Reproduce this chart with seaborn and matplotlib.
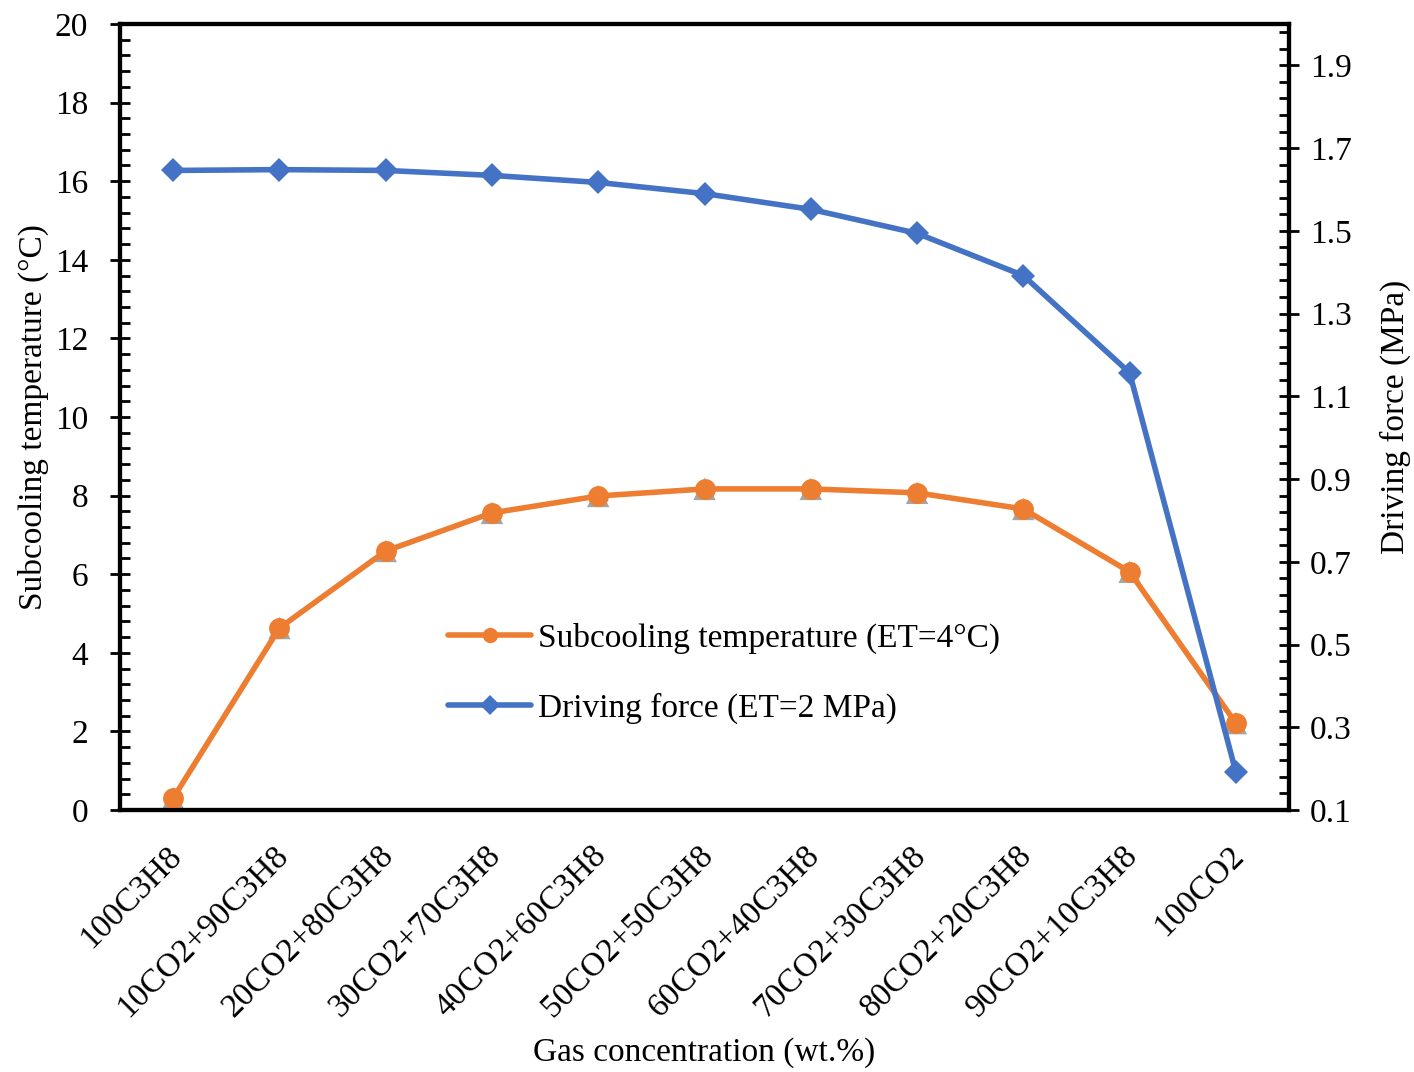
import matplotlib
matplotlib.use("Agg")
import matplotlib.pyplot as plt
import matplotlib.transforms as mtransforms
import seaborn as sns
import pandas as pd
import numpy as np
from matplotlib.ticker import MultipleLocator, FixedLocator
from matplotlib.lines import Line2D

categories = ["100C3H8", "10CO2+90C3H8", "20CO2+80C3H8", "30CO2+70C3H8",
              "40CO2+60C3H8", "50CO2+50C3H8", "60CO2+40C3H8", "70CO2+30C3H8",
              "80CO2+20C3H8", "90CO2+10C3H8", "100CO2"]
subcooling = [0.3, 4.63, 6.59, 7.56, 7.99, 8.17, 8.17, 8.07, 7.66, 6.06, 2.21]
driving_force = [1.646, 1.648, 1.646, 1.634, 1.617, 1.590, 1.552, 1.494, 1.392, 1.157, 0.192]

sns.set_theme(style="white")
plt.rcParams['font.family'] = ['Liberation Serif', 'DejaVu Serif']
plt.rcParams['text.color'] = 'black'
plt.rcParams['axes.labelcolor'] = 'black'
plt.rcParams['xtick.color'] = 'black'
plt.rcParams['ytick.color'] = 'black'
FS = 24

df = pd.DataFrame({"cat": categories, "x": np.arange(len(categories)),
                   "sub": subcooling, "drv": driving_force})

fig = plt.figure(figsize=(14.14, 10.72), dpi=100)
ax = fig.add_axes([120/1414, 1 - 810/1072, (1289-120)/1414, (810-24)/1072])
ax2 = ax.twinx()

orange = "#ED7D31"
blue = "#4472C4"
gray = "#A5A5A5"

# hidden gray triangle series beneath orange
sns.scatterplot(data=df, x="x", y="sub", ax=ax, marker="^", s=260, color=gray,
                edgecolor="none", zorder=2, legend=False)
sns.lineplot(data=df, x="x", y="sub", ax=ax, color=orange, lw=4, marker="o",
             markersize=15, markeredgewidth=0, zorder=3, legend=False)
sns.lineplot(data=df, x="x", y="drv", ax=ax2, color=blue, lw=4, marker="D",
             markersize=12, markeredgewidth=0, zorder=3, legend=False)

ax.set_xlim(-0.5, len(categories) - 0.5)
ax.set_ylim(0, 20)
ax2.set_ylim(0.1, 2.0)

ax.set_xticks(np.arange(-0.5, len(categories)), minor=False)
ax.set_xticklabels([])
ax.set_xticks(np.arange(len(categories)), minor=True)
ax.set_xticklabels(categories, minor=True, rotation=45, ha="right",
                   rotation_mode="anchor", fontsize=FS)
ax.tick_params(axis="x", which="major", direction="out", length=8, width=2)
ax.tick_params(axis="x", which="minor", direction="in", length=8, width=2, pad=22)
offset = mtransforms.ScaledTranslation(-7/100, 0, fig.dpi_scale_trans)
for lbl in ax.xaxis.get_minorticklabels():
    lbl.set_transform(lbl.get_transform() + offset)

ax.yaxis.set_major_locator(MultipleLocator(2))
ax.yaxis.set_minor_locator(MultipleLocator(0.4))
ax.tick_params(axis="y", which="major", direction="inout", length=14, width=2,
               labelsize=FS, pad=16)
ax.tick_params(axis="y", which="minor", direction="in", length=7, width=2)

ax2.yaxis.set_major_locator(FixedLocator(np.arange(0.1, 2.0, 0.2)))
ax2.set_yticklabels([f"{v:.1f}" for v in np.arange(0.1, 2.0, 0.2)])
ax2.yaxis.set_minor_locator(FixedLocator(np.arange(0.1, 2.0, 0.04)))
ax2.tick_params(axis="y", which="major", direction="inout", length=14, width=2,
                labelsize=FS, pad=8)
ax2.tick_params(axis="y", which="minor", direction="in", length=7, width=2)

for a in (ax, ax2):
    for sp in a.spines.values():
        sp.set_color("black")
        sp.set_linewidth(3)
    a.grid(False)

ax.set_xlabel("Gas concentration (wt.%)", fontsize=FS, labelpad=10)
ax.set_ylabel("Subcooling temperature (°C)", fontsize=FS, labelpad=4)
ax2.set_ylabel("Driving force (MPa)", fontsize=FS, labelpad=20)

handles = [Line2D([], [], color=orange, lw=4, marker="o", markersize=11, markeredgewidth=0),
           Line2D([], [], color=blue, lw=4, marker="D", markersize=10, markeredgewidth=0)]
ax2.legend(handles, ["Subcooling temperature (ET=4°C)", "Driving force (ET=2 MPa)"],
           loc="center left", bbox_to_anchor=(0.255, 0.174), frameon=False,
           fontsize=FS, handlelength=2.5, handletextpad=0.2, labelspacing=1.15)

fig.savefig("out.png", dpi=100)
